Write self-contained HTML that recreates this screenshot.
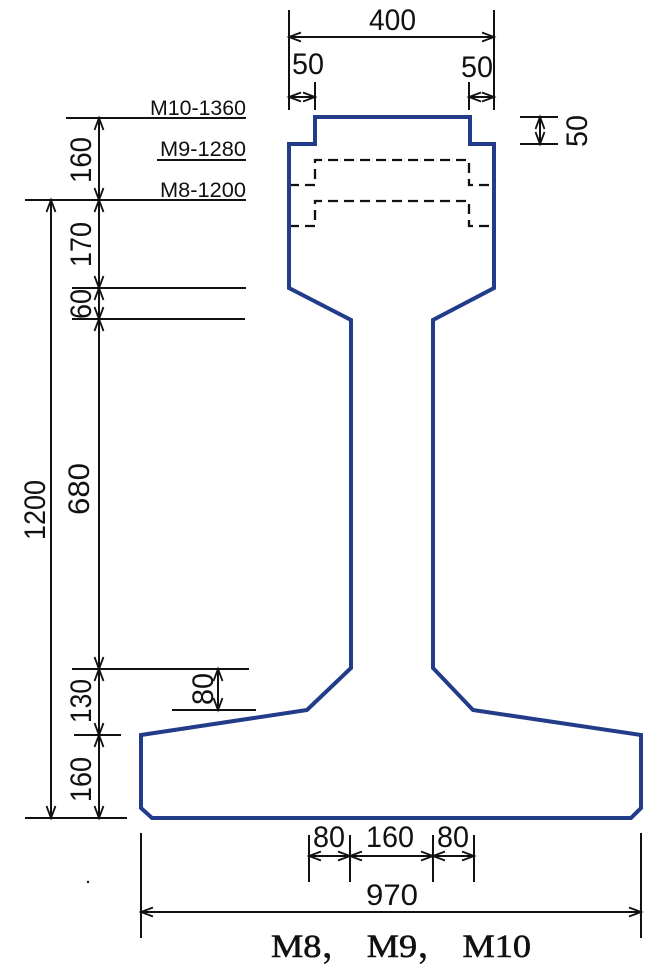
<!DOCTYPE html>
<html><head><meta charset="utf-8"><style>html,body{margin:0;padding:0;background:#fff}svg{display:block}</style></head>
<body>
<svg width="667" height="971" viewBox="0 0 667 971" xmlns="http://www.w3.org/2000/svg" font-family="Liberation Sans, sans-serif">
<defs>
<marker id="a" markerUnits="userSpaceOnUse" markerWidth="20" markerHeight="12" refX="13" refY="6" orient="auto-start-reverse" viewBox="0 0 20 12">
<path d="M1,1.5 L13,6 L1,10.5" fill="none" stroke="#111" stroke-width="1.8"/>
</marker>
</defs>
<g stroke="#111" stroke-width="2" fill="none">
<line x1="289" y1="10" x2="289" y2="110"/>
<line x1="494" y1="10" x2="494" y2="110"/>
<line x1="289" y1="37" x2="494" y2="37" marker-start="url(#a)" marker-end="url(#a)"/>
<line x1="315" y1="82" x2="315" y2="110"/>
<line x1="469" y1="82" x2="469" y2="110"/>
<line x1="289" y1="97" x2="315" y2="97" marker-start="url(#a)" marker-end="url(#a)"/>
<line x1="469" y1="97" x2="494" y2="97" marker-start="url(#a)" marker-end="url(#a)"/>
<line x1="520" y1="117" x2="558" y2="117"/>
<line x1="520" y1="144" x2="558" y2="144"/>
<line x1="540" y1="117" x2="540" y2="144" marker-start="url(#a)" marker-end="url(#a)"/>
<line x1="66" y1="118" x2="246" y2="118"/>
<line x1="157" y1="160" x2="246" y2="160"/>
<line x1="25" y1="200" x2="246" y2="200"/>
<line x1="72" y1="288" x2="246" y2="288"/>
<line x1="72" y1="319" x2="245" y2="319"/>
<line x1="72" y1="669" x2="249" y2="669"/>
<line x1="172" y1="710" x2="256" y2="710"/>
<line x1="74" y1="735" x2="121" y2="735"/>
<line x1="25" y1="818" x2="127" y2="818"/>
<line x1="99" y1="118" x2="99" y2="200" marker-start="url(#a)" marker-end="url(#a)"/>
<line x1="99" y1="200" x2="99" y2="288" marker-start="url(#a)" marker-end="url(#a)"/>
<line x1="99" y1="288" x2="99" y2="319" marker-start="url(#a)" marker-end="url(#a)"/>
<line x1="99" y1="319" x2="99" y2="669" marker-start="url(#a)" marker-end="url(#a)"/>
<line x1="99" y1="669" x2="99" y2="735" marker-start="url(#a)" marker-end="url(#a)"/>
<line x1="99" y1="735" x2="99" y2="818" marker-start="url(#a)" marker-end="url(#a)"/>
<line x1="51" y1="200" x2="51" y2="818" marker-start="url(#a)" marker-end="url(#a)"/>
<line x1="218" y1="669" x2="218" y2="710" marker-start="url(#a)" marker-end="url(#a)"/>
<line x1="141" y1="833" x2="141" y2="938"/>
<line x1="641" y1="833" x2="641" y2="938"/>
<line x1="141" y1="912" x2="641" y2="912" marker-start="url(#a)" marker-end="url(#a)"/>
<line x1="309" y1="835" x2="309" y2="882"/>
<line x1="350" y1="835" x2="350" y2="882"/>
<line x1="433" y1="835" x2="433" y2="882"/>
<line x1="474" y1="835" x2="474" y2="882"/>
<line x1="309" y1="856" x2="350" y2="856" marker-start="url(#a)" marker-end="url(#a)"/>
<line x1="350" y1="856" x2="433" y2="856" marker-start="url(#a)" marker-end="url(#a)"/>
<line x1="433" y1="856" x2="474" y2="856" marker-start="url(#a)" marker-end="url(#a)"/>
<path d="M289,185 H315 V160 H469 V185 H494" stroke-dasharray="10,6" stroke-width="2.3"/>
<path d="M289,226 H315 V201 H469 V226 H494" stroke-dasharray="10,6" stroke-width="2.3"/>
</g>
<circle cx="88" cy="882" r="1.2" fill="#111"/>
<path d="M315,117 H470 V144 H494 V288 L433,320 V668 L473,710 L641,735 V808 L631,818 H152 L141,808 V735 L307,710 L351,668 V320 L289,288 V144 H315 Z" fill="none" stroke="#233c8a" stroke-width="4" stroke-linejoin="miter"/>
<g fill="#111" font-size="30">
<text x="369" y="30" textLength="47" lengthAdjust="spacingAndGlyphs">400</text>
<text x="292" y="74" textLength="32" lengthAdjust="spacingAndGlyphs">50</text>
<text x="461" y="77" textLength="32" lengthAdjust="spacingAndGlyphs">50</text>
<text transform="translate(587,147) rotate(-90)" textLength="32" lengthAdjust="spacingAndGlyphs">50</text>
<text transform="translate(91,183) rotate(-90)" textLength="46" lengthAdjust="spacingAndGlyphs">160</text>
<text transform="translate(91,267) rotate(-90)" textLength="45" lengthAdjust="spacingAndGlyphs">170</text>
<text transform="translate(91,319) rotate(-90)" textLength="30" lengthAdjust="spacingAndGlyphs">60</text>
<text transform="translate(89,515) rotate(-90)" textLength="52" lengthAdjust="spacingAndGlyphs">680</text>
<text transform="translate(45,540) rotate(-90)" textLength="60" lengthAdjust="spacingAndGlyphs">1200</text>
<text transform="translate(91,723) rotate(-90)" textLength="44" lengthAdjust="spacingAndGlyphs">130</text>
<text transform="translate(91,802) rotate(-90)" textLength="45" lengthAdjust="spacingAndGlyphs">160</text>
<text transform="translate(213,705) rotate(-90)" textLength="32" lengthAdjust="spacingAndGlyphs">80</text>
<text x="313" y="847" textLength="32" lengthAdjust="spacingAndGlyphs">80</text>
<text x="366" y="847" textLength="48" lengthAdjust="spacingAndGlyphs">160</text>
<text x="437" y="847" textLength="32" lengthAdjust="spacingAndGlyphs">80</text>
<text x="366" y="905" textLength="52" lengthAdjust="spacingAndGlyphs">970</text>
</g>
<g fill="#111" font-size="21">
<text x="150" y="115" textLength="96" lengthAdjust="spacingAndGlyphs">M10-1360</text>
<text x="160" y="156" textLength="86" lengthAdjust="spacingAndGlyphs">M9-1280</text>
<text x="160" y="197" textLength="86" lengthAdjust="spacingAndGlyphs">M8-1200</text>
</g>
<text x="271" y="957" font-size="33" font-family="Liberation Serif, 'Noto Serif CJK SC', serif" fill="#111" stroke="#111" stroke-width="0.6" textLength="260" lengthAdjust="spacingAndGlyphs">M8， M9， M10</text>
</svg>
</body></html>
